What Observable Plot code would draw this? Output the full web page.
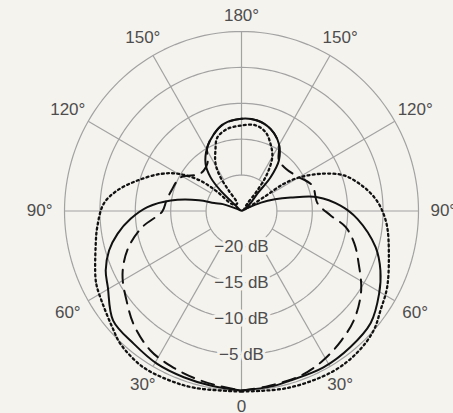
<!DOCTYPE html>
<html>
<head>
<meta charset="utf-8">
<script src="https://cdn.jsdelivr.net/npm/d3@7"></script>
<script src="https://cdn.jsdelivr.net/npm/@observablehq/plot@0.6"></script>
<style>
  html, body { margin: 0; padding: 0; background: #f5f3ee; }
  #chart { width: 453px; height: 413px; }
</style>
</head>
<body>
<div id="chart"></div>
<script>
// Polar response: angle in degrees (0 = front/bottom, 90 = right, 180 = rear, 270 = left), level in dB.
const solidAngle = [0, 10, 16, 28, 39, 49.5, 59.3, 67.1, 75.1, 86.2, 93.1, 100.2, 105, 109, 113, 116, 119,
  123, 131, 137.2, 138.9, 143.1, 150.6, 160.3, 170, 180, 191.6, 200, 208.6, 217.7, 223, 226.2, 226.7, 232, 238,
  246, 250, 254, 256, 261.7, 267.7, 274, 280.3, 286.4, 293.4, 299.3, 310.1, 320.6, 330.8, 340.6, 349.8, 360];
const solidDb = [0, -0.2, -0.4, -0.35, -0.6, -1.0, -2.4, -3.7, -5.4, -8.6, -11.0, -14.1, -17.8, -20, -22, -24, -25,
  -24.4, -23.3, -21.7, -18.75, -16.2, -14.25, -12.85, -12.2, -12.15, -12.6, -13.6, -14.9, -16.7, -18.6, -20.9, -22.9, -24.6, -25,
  -24.2, -22.2, -21, -18.8, -14.9, -11.7, -9.3, -7.2, -5.5, -4.1, -3.35, -1.3, -1.05, -0.6, -0.45, -0.3, 0];

const dashedAngle = [0, 8, 20.2, 28.9, 38, 46.8, 56.8, 66.1, 74, 81.3, 87.2, 95.6, 109.6, 123, 133.6,
  143.1, 150.6, 160.3, 170, 180, 191.6, 200, 208.6, 216, 228, 241.6, 254, 262, 270.4, 279.1, 288.2, 297.8,
  308.6, 316.4, 326.5, 335.4, 344, 352, 360];
const dashedDb = [0, -0.3, -0.6, -1.2, -2.1, -3.1, -4.8, -6.9, -8.4, -10.1, -12.4, -14.2, -14.4, -15.9, -16.4,
  -16.2, -14.25, -12.85, -12.2, -12.15, -12.6, -13.6, -14.9, -16.8, -17.2, -15.2, -14.7, -14.3, -13.8, -10.8, -8.1, -6.0,
  -4.35, -3.0, -1.7, -1.2, -0.8, -0.45, 0];

const dottedAngle = [0, 15, 30, 40, 48.3, 54.8, 62.7, 74, 83.8, 90, 95.1, 100.9, 108.9, 114.9, 119.5, 122.4, 121.4, 123,
  141, 142, 145, 150, 156.3, 162.8, 170.6, 180.7, 190, 198.4, 203.6, 209.2, 212.3, 212.3, 211,
  233, 232, 234, 239.7, 245.7, 253.9, 260.8, 267.1, 276.3, 283.6, 294.1, 297.5, 304.6, 311.6, 317.3, 327, 336, 345, 360];
const dottedDb = [0.15, 0.5, 0.8, 0.6, 0, -0.98, -1.85, -3.35, -4.3, -5.1, -6.0, -7.4, -9.7, -12.7, -15.4, -17.9, -21.3, -24.5,
  -23.7, -21.4, -18.7, -16.3, -14.8, -13.5, -12.9, -13.1, -13.4, -14.2, -15.8, -17.5, -19.4, -21.6, -23.8,
  -23.5, -20.5, -17.8, -14.75, -12.45, -9.7, -7.2, -5.5, -4.5, -3.8, -2.4, -2.0, -1.4, -0.6, 0.2, 0.8, 0.7, 0.5, 0.15];

// Grid: level rings and angle spokes
const ringDb = [-20, -15, -10, -5, 0];
const ringLabels = ["\u221220 dB", "\u221215 dB", "\u221210 dB", "\u22125 dB"];
const spokeAngles = [0, 30, 60, 90, 120, 150, 180, 210, 240, 270, 300, 330];
const angleLabels = ["0", "30\u00b0", "60\u00b0", "90\u00b0", "120\u00b0", "150\u00b0", "180\u00b0",
  "150\u00b0", "120\u00b0", "90\u00b0", "60\u00b0", "30\u00b0"];

const floorDb = -25;
const bg = "#f5f3ee";
const gridColor = "#a2a2a2";
const textColor = "#4d4d4d";
const rad = Math.PI / 180;
const rho = (db) => (db - floorDb) / (0 - floorDb);
const polar = (a, r) => ({x: r * Math.sin(a * rad), y: r * Math.cos(a * rad)});

const trace = (angles, dbs) => angles.map((a, i) => polar(a, rho(dbs[i])));
const solid = trace(solidAngle, solidDb);
const dashed = trace(dashedAngle, dashedDb);
const dotted = trace(dottedAngle, dottedDb);

const rings = ringDb.flatMap((db) =>
  d3.range(0, 361, 2).map((a) => ({...polar(a, rho(db)), ring: db})));
const innerR = rho(ringDb[0]);
const spokes = spokeAngles.map((a) => {
  const p = polar(a, innerR), q = polar(a, 1);
  return {x1: p.x, y1: p.y, x2: q.x, y2: q.y};
});
const ringText = ringLabels.map((t, i) => ({x: 0, y: rho(ringDb[i]), text: t}));
const angleText = spokeAngles.map((a, i) =>
  ({...polar(a, 1.09 + 0.05 * Math.abs(Math.sin(a * rad))), text: angleLabels[i]}));

const chart = Plot.plot({
  width: 453,
  height: 413,
  margin: 0,
  style: {background: bg, fontFamily: "'Liberation Sans', Arial, sans-serif"},
  x: {domain: [-1, 1], range: [64, 418], axis: null},
  y: {domain: [-1, 1], range: [31, 390], axis: null},
  marks: [
    Plot.line(rings, {x: "x", y: "y", z: "ring", stroke: gridColor, strokeWidth: 1.2}),
    Plot.link(spokes, {x1: "x1", y1: "y1", x2: "x2", y2: "y2", stroke: gridColor, strokeWidth: 1.2}),
    Plot.text(ringText, {x: "x", y: "y", text: "text", fill: textColor, fontSize: 17,
      stroke: bg, strokeWidth: 6, paintOrder: "stroke"}),
    Plot.text(angleText, {x: "x", y: "y", text: "text", fill: textColor, fontSize: 17}),
    Plot.line(dotted, {x: "x", y: "y", stroke: "#111", strokeWidth: 2.3, strokeDasharray: "2,3.2",
      curve: "catmull-rom"}),
    Plot.line(dashed, {x: "x", y: "y", stroke: "#111", strokeWidth: 2, strokeDasharray: "13,8",
      curve: "catmull-rom"}),
    Plot.line(solid, {x: "x", y: "y", stroke: "#111", strokeWidth: 2, curve: "catmull-rom"})
  ]
});
document.getElementById("chart").appendChild(chart);
</script>
</body>
</html>
